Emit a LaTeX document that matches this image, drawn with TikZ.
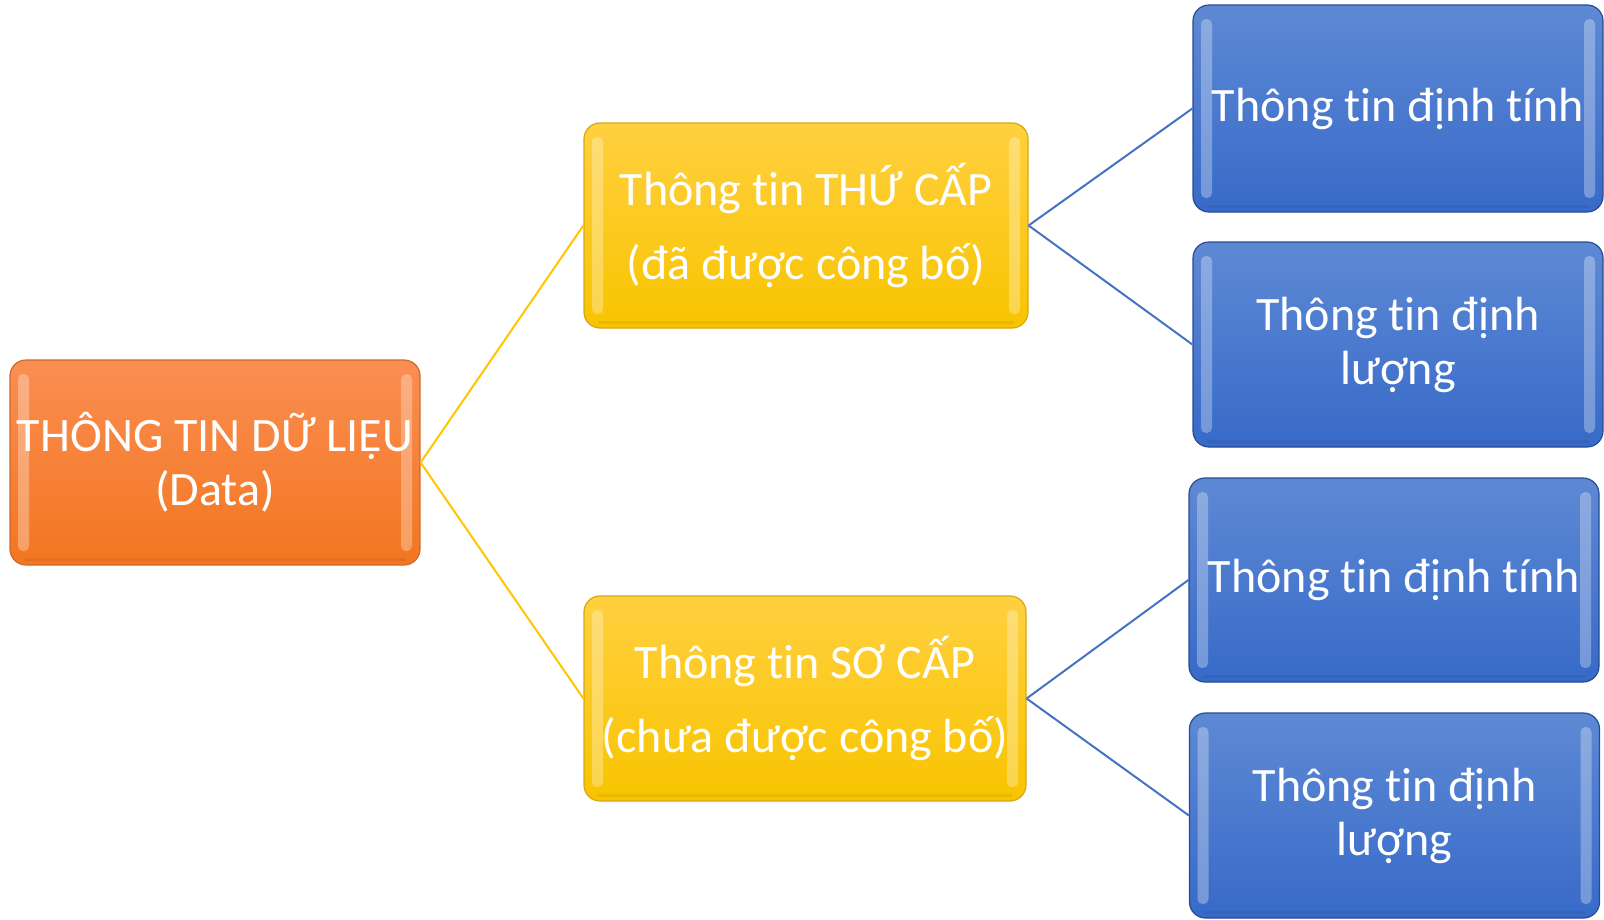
\documentclass[tikz,border=0pt]{standalone}
\usepackage{fontspec}
\setmainfont{Carlito}[RawFeature={-liga}]
\begin{document}
\begin{tikzpicture}[x=1pt,y=-1pt,
  box/.style={rounded corners=16pt, minimum width=410pt, minimum height=205pt,
    inner sep=0pt, align=center, text=white, line width=1.2pt,
    font=\fontsize{48}{54}\selectfont,
    path picture={
      \fill[white,opacity=0.3,rounded corners=5pt]
        ([xshift=8pt,yshift=-14pt]path picture bounding box.north west) rectangle
        ([xshift=19pt,yshift=14pt]path picture bounding box.south west);
      \fill[white,opacity=0.3,rounded corners=5pt]
        ([xshift=-8pt,yshift=-14pt]path picture bounding box.north east) rectangle
        ([xshift=-19pt,yshift=14pt]path picture bounding box.south east);
      \draw[black,opacity=0.06,line width=3pt]
        ([xshift=14pt,yshift=6pt]path picture bounding box.south west) --
        ([xshift=-14pt,yshift=6pt]path picture bounding box.south east);
    }},
  orangebox/.style={box, draw=orangeedge, top color=orangetop, bottom color=orangebot},
  yellowbox/.style={box, draw=yellowedge, top color=yellowtop, bottom color=yellowbot,
    font=\fontsize{48}{74}\selectfont},
  bluebox/.style={box, draw=blueedge, top color=bluetop, bottom color=bluebot},
  yline/.style={draw=linkyellow, line width=2pt},
  bline/.style={draw=linkblue, line width=2pt}
]
\definecolor{orangetop}{RGB}{250,142,82}
\definecolor{orangebot}{RGB}{243,118,32}
\definecolor{orangeedge}{RGB}{205,105,45}
\definecolor{yellowtop}{RGB}{255,208,64}
\definecolor{yellowbot}{RGB}{248,196,0}
\definecolor{yellowedge}{RGB}{215,168,20}
\definecolor{bluetop}{RGB}{94,137,212}
\definecolor{bluebot}{RGB}{55,106,200}
\definecolor{blueedge}{RGB}{40,75,150}
\definecolor{linkyellow}{RGB}{255,198,0}
\definecolor{linkblue}{RGB}{70,114,196}

\useasboundingbox (0,0) rectangle (1604,919);

% root
\node[orangebox, minimum width=410pt] (root) at (215,462.5) {THÔNG TIN DỮ LIỆU\\(Data)};

% second level
\node[yellowbox, minimum width=444pt] (sec) at (806,225.5) {Thông tin THỨ CẤP\\(đã được công bố)};
\node[yellowbox, minimum width=442pt] (pri) at (805,698.5) {Thông tin SƠ CẤP\\(chưa được công bố)};

% third level
\node[bluebox, minimum height=207pt] (s1) at (1398,108.5) {Thông tin định tính};
\node[bluebox] (s2) at (1398,344.5) {Thông tin định\\lượng};
\node[bluebox, minimum height=204pt] (p1) at (1394,580) {Thông tin định tính};
\node[bluebox] (p2) at (1394.5,815.5) {Thông tin định\\lượng};

% connectors
\draw[yline] (root.east) -- (sec.west);
\draw[yline] (root.east) -- (pri.west);
\draw[bline] (sec.east) -- (s1.west);
\draw[bline] (sec.east) -- (s2.west);
\draw[bline] (pri.east) -- (p1.west);
\draw[bline] (pri.east) -- (p2.west);
\end{tikzpicture}
\end{document}
